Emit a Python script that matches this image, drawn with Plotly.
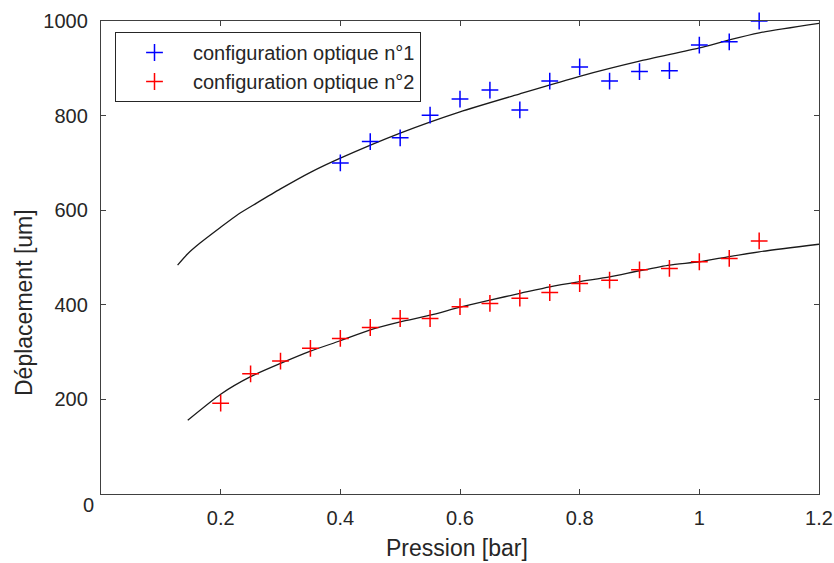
import plotly.graph_objects as go

pression_1 = [0.40, 0.45, 0.50, 0.55, 0.60, 0.65, 0.70, 0.75, 0.80, 0.85, 0.90, 0.95, 1.00, 1.05, 1.10]
deplacement_1 = [700, 745, 753, 801, 835, 854, 812, 873, 903, 873, 893, 895, 949, 956, 1000]

pression_2 = [0.20, 0.25, 0.30, 0.35, 0.40, 0.45, 0.50, 0.55, 0.60, 0.65, 0.70, 0.75, 0.80, 0.85, 0.90, 0.95, 1.00, 1.05, 1.10]
deplacement_2 = [192, 254, 281, 308, 329, 352, 371, 371, 396, 403, 414, 426, 445, 452, 474, 477, 491, 498, 535]

# Fitted curves
fit_x_1 = [0.128, 0.145, 0.165, 0.20, 0.23, 0.26, 0.30, 0.35, 0.40, 0.50, 0.60, 0.70, 0.80, 0.90, 1.00, 1.05, 1.10, 1.20]
fit_y_1 = [484, 508, 530, 564, 592, 615, 645, 680, 710, 763, 808, 846, 883, 915, 943, 960, 975, 995]

fit_x_2 = [0.145, 0.20, 0.25, 0.30, 0.35, 0.40, 0.45, 0.50, 0.55, 0.60, 0.65, 0.70, 0.75, 0.80, 0.85, 0.90, 0.95, 1.00, 1.05, 1.10, 1.20]
fit_y_2 = [156, 211, 248, 276, 302, 324, 347, 364, 378, 395, 410, 424, 438, 449, 459, 472, 484, 491, 502, 512, 528]

x_ticks = [0.2, 0.4, 0.6, 0.8, 1.0, 1.2]
x_tick_labels = ["0.2", "0.4", "0.6", "0.8", "1", "1.2"]
y_ticks = [200, 400, 600, 800, 1000]
y_tick_labels = ["200", "400", "600", "800", "1000"]

FONT = "Arial, Liberation Sans, sans-serif"
AXIS_COL = "#404040"
TXT_COL = "#262626"

fig = go.Figure()

fig.add_trace(go.Scatter(x=fit_x_1, y=fit_y_1, mode="lines", line=dict(color="#1a1a1a", width=1.3, shape="spline", smoothing=0.6),
                         showlegend=False, hoverinfo="skip"))
fig.add_trace(go.Scatter(x=fit_x_2, y=fit_y_2, mode="lines", line=dict(color="#1a1a1a", width=1.3, shape="spline", smoothing=0.6),
                         showlegend=False, hoverinfo="skip"))

fig.add_trace(go.Scatter(x=pression_1, y=deplacement_1, mode="markers", name="configuration optique n°1",
                         marker=dict(symbol="cross-thin", size=12, color="#0000ff",
                                     line=dict(color="#0000ff", width=1.5)),
                         cliponaxis=False))
fig.add_trace(go.Scatter(x=pression_2, y=deplacement_2, mode="markers", name="configuration optique n°2",
                         marker=dict(symbol="cross-thin", size=12, color="#ff0000",
                                     line=dict(color="#ff0000", width=1.5)),
                         cliponaxis=False))

L, R, T, B = 101, 15, 21, 69
W, H = 834, 563
pw, ph = W - L - R, H - T - B

fig.update_layout(
    width=W, height=H,
    margin=dict(l=L, r=R, t=T, b=B, pad=0, autoexpand=False),
    paper_bgcolor="white", plot_bgcolor="white",
    font=dict(family=FONT, size=20, color=TXT_COL),
    showlegend=True,
    legend=dict(x=(115 - L) / pw, y=(H - B - 32) / ph, xanchor="left", yanchor="top",
                bordercolor="#262626", borderwidth=1, bgcolor="white",
                font=dict(family=FONT, size=20, color=TXT_COL),
                itemwidth=67, tracegroupgap=0),
    xaxis=dict(range=[0, 1.2], tickvals=x_ticks, ticktext=x_tick_labels, automargin=False,
               showgrid=False, zeroline=False, showline=True, linecolor=AXIS_COL, linewidth=1.3,
               mirror="ticks", ticks="inside", ticklen=5, tickcolor=AXIS_COL, tickwidth=1,
               tickfont=dict(family=FONT, size=20, color=TXT_COL), ticklabelstandoff=6),
    yaxis=dict(range=[0, 1000], tickvals=y_ticks, ticktext=y_tick_labels, automargin=False,
               showgrid=False, zeroline=False, showline=True, linecolor=AXIS_COL, linewidth=1.3,
               mirror="ticks", ticks="inside", ticklen=5, tickcolor=AXIS_COL, tickwidth=1,
               tickfont=dict(family=FONT, size=20, color=TXT_COL), ticklabelstandoff=8),
    annotations=[
        dict(text="0", xref="paper", yref="paper", x=(88.5 - L) / pw, y=(H - B - 505) / ph,
             xanchor="center", yanchor="middle", showarrow=False,
             font=dict(family=FONT, size=20, color=TXT_COL)),
        dict(text="Pression [bar]", xref="paper", yref="paper", x=(457 - L) / pw, y=(H - B - 548) / ph,
             xanchor="center", yanchor="middle", showarrow=False,
             font=dict(family=FONT, size=23, color=TXT_COL)),
        dict(text="Déplacement [um]", xref="paper", yref="paper", x=(24 - L) / pw, y=(H - B - 303) / ph,
             xanchor="center", yanchor="middle", showarrow=False, textangle=-90,
             font=dict(family=FONT, size=23, color=TXT_COL)),
    ],
)

fig.write_html("out.html")
